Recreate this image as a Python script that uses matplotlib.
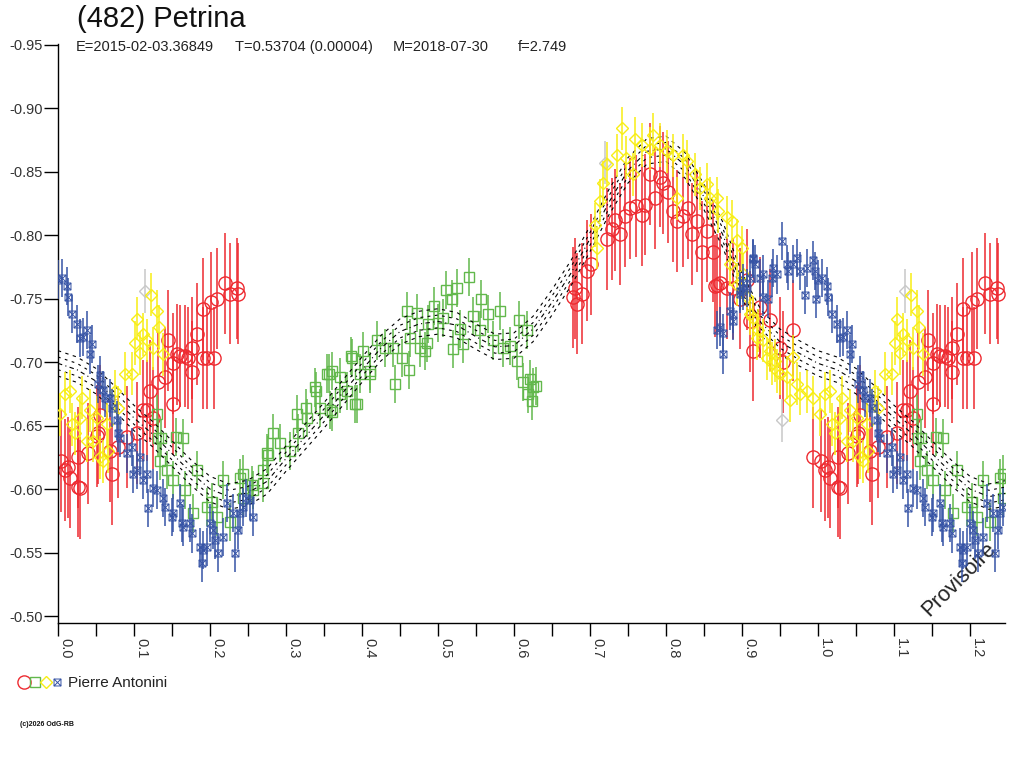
import numpy as np
import matplotlib
matplotlib.use("Agg")
import matplotlib.pyplot as plt
from matplotlib.path import Path
from matplotlib.legend_handler import HandlerTuple

plt.rcParams['font.family'] = ['Liberation Sans', 'DejaVu Sans']

# --- data (phase, reduced magnitude), phases 0..1, wrapped to 1.246 when drawn ---
red_phase = [0.004, 0.009, 0.013, 0.016, 0.026, 0.026, 0.029, 0.039, 0.051, 0.053,
             0.055, 0.068, 0.071, 0.079, 0.091, 0.104, 0.112, 0.117, 0.121, 0.125,
             0.132, 0.141, 0.145, 0.151, 0.151, 0.157, 0.161, 0.167, 0.171, 0.176,
             0.176, 0.183, 0.191, 0.191, 0.196, 0.202, 0.205, 0.209, 0.220, 0.226,
             0.235, 0.237,
             0.678, 0.680, 0.683, 0.689, 0.696, 0.702, 0.722, 0.729, 0.733, 0.739,
             0.746, 0.753, 0.761, 0.768, 0.772, 0.779, 0.786, 0.792, 0.796, 0.803,
             0.809, 0.814, 0.822, 0.829, 0.834, 0.841, 0.847, 0.854, 0.862, 0.864,
             0.867, 0.871, 0.880, 0.888, 0.897, 0.906, 0.911, 0.914, 0.924, 0.937,
             0.950, 0.954, 0.967, 0.993]
red_mag = [-0.622, -0.615, -0.617, -0.609, -0.625, -0.602, -0.601, -0.628, -0.642, -0.644,
           -0.658, -0.630, -0.612, -0.633, -0.641, -0.644, -0.662, -0.662, -0.677, -0.656,
           -0.684, -0.688, -0.717, -0.667, -0.699, -0.706, -0.705, -0.705, -0.703, -0.692,
           -0.711, -0.722, -0.742, -0.703, -0.703, -0.747, -0.703, -0.750, -0.762, -0.754,
           -0.758, -0.754,
           -0.751, -0.758, -0.746, -0.754, -0.772, -0.777, -0.797, -0.805, -0.812, -0.801,
           -0.815, -0.821, -0.823, -0.816, -0.824, -0.848, -0.829, -0.846, -0.841, -0.834,
           -0.819, -0.811, -0.815, -0.821, -0.801, -0.811, -0.787, -0.803, -0.787, -0.760,
           -0.761, -0.762, -0.758, -0.758, -0.750, -0.765, -0.732, -0.709, -0.743, -0.733,
           -0.711, -0.700, -0.725, -0.625]

green_phase = [0.130, 0.132, 0.134, 0.136, 0.143, 0.151, 0.155, 0.164, 0.167, 0.178,
               0.183, 0.196, 0.203, 0.209, 0.217, 0.226, 0.239, 0.243, 0.243, 0.255,
               0.257, 0.270, 0.270, 0.275, 0.276, 0.283, 0.292, 0.305, 0.314, 0.316,
               0.327, 0.328, 0.338, 0.340, 0.345, 0.354, 0.357, 0.358, 0.360, 0.361,
               0.371, 0.371, 0.380, 0.386, 0.387, 0.391, 0.393, 0.397, 0.401, 0.411,
               0.411, 0.420, 0.430, 0.441, 0.443, 0.453, 0.459, 0.462, 0.463, 0.472,
               0.476, 0.483, 0.485, 0.487, 0.495, 0.500, 0.507, 0.511, 0.518, 0.520,
               0.525, 0.529, 0.533, 0.541, 0.546, 0.555, 0.557, 0.566, 0.572, 0.582,
               0.586, 0.595, 0.604, 0.607, 0.612, 0.617, 0.618, 0.621, 0.624, 0.625,
               0.629]
green_mag = [-0.659, -0.640, -0.622, -0.640, -0.615, -0.607, -0.641, -0.640, -0.599, -0.581,
             -0.615, -0.586, -0.590, -0.578, -0.607, -0.574, -0.609, -0.593, -0.612, -0.603,
             -0.599, -0.615, -0.605, -0.628, -0.627, -0.644, -0.636, -0.630, -0.659, -0.644,
             -0.664, -0.656, -0.680, -0.677, -0.664, -0.691, -0.691, -0.662, -0.661, -0.693,
             -0.688, -0.675, -0.677, -0.705, -0.703, -0.667, -0.667, -0.691, -0.709, -0.693,
             -0.691, -0.717, -0.711, -0.711, -0.683, -0.703, -0.740, -0.694, -0.719, -0.739,
             -0.711, -0.709, -0.715, -0.730, -0.744, -0.731, -0.735, -0.757, -0.750, -0.710,
             -0.758, -0.726, -0.714, -0.767, -0.736, -0.725, -0.750, -0.738, -0.717, -0.740,
             -0.711, -0.713, -0.701, -0.733, -0.684, -0.725, -0.675, -0.687, -0.669, -0.680,
             -0.681]

yellow_phase = [0.003, 0.009, 0.016, 0.018, 0.022, 0.029, 0.032, 0.038, 0.042, 0.046,
                0.051, 0.055, 0.059, 0.064, 0.066, 0.075, 0.079, 0.088, 0.097, 0.101,
                0.104, 0.108, 0.112, 0.117, 0.122, 0.125, 0.130, 0.133, 0.138,
                0.707, 0.709, 0.713, 0.717, 0.722, 0.735, 0.742, 0.748, 0.757, 0.759,
                0.768, 0.779, 0.783, 0.792, 0.801, 0.809, 0.814, 0.822, 0.828, 0.838,
                0.845, 0.854, 0.858, 0.867, 0.868, 0.880, 0.884, 0.887, 0.893, 0.893,
                0.900, 0.901, 0.906, 0.911, 0.915, 0.920, 0.921, 0.928, 0.933, 0.937,
                0.939, 0.943, 0.946, 0.950, 0.959, 0.963, 0.967, 0.972, 0.976, 0.985,
                0.993]
yellow_mag = [-0.659, -0.675, -0.677, -0.651, -0.644, -0.656, -0.672, -0.638, -0.662, -0.638,
              -0.656, -0.625, -0.622, -0.651, -0.630, -0.677, -0.664, -0.691, -0.691, -0.715,
              -0.734, -0.707, -0.722, -0.717, -0.753, -0.711, -0.740, -0.728, -0.706,
              -0.808, -0.790, -0.827, -0.841, -0.856, -0.863, -0.884, -0.861, -0.848, -0.876,
              -0.871, -0.868, -0.879, -0.871, -0.866, -0.863, -0.829, -0.863, -0.858, -0.848,
              -0.837, -0.840, -0.829, -0.829, -0.819, -0.814, -0.777, -0.811, -0.796, -0.761,
              -0.790, -0.769, -0.751, -0.738, -0.735, -0.719, -0.725, -0.717, -0.703, -0.709,
              -0.699, -0.701, -0.693, -0.691, -0.688, -0.670, -0.704, -0.683, -0.675, -0.677,
              -0.672]

blue_phase = [0.000, 0.005, 0.012, 0.013, 0.018, 0.025, 0.029, 0.033, 0.038, 0.042,
              0.045, 0.053, 0.055, 0.059, 0.062, 0.068, 0.071, 0.078, 0.079, 0.082,
              0.091, 0.097, 0.099, 0.104, 0.108, 0.112, 0.117, 0.118, 0.125, 0.130,
              0.138, 0.141, 0.150, 0.151, 0.161, 0.163, 0.164, 0.174, 0.176, 0.187,
              0.189, 0.191, 0.196, 0.200, 0.204, 0.206, 0.211, 0.217, 0.222, 0.230,
              0.233, 0.237, 0.239, 0.243, 0.248, 0.253, 0.257,
              0.867, 0.871, 0.875, 0.875, 0.884, 0.888, 0.888, 0.897, 0.897, 0.901,
              0.901, 0.906, 0.911, 0.914, 0.915, 0.917, 0.924, 0.928, 0.928, 0.934,
              0.939, 0.941, 0.946, 0.953, 0.959, 0.961, 0.967, 0.972, 0.976, 0.983,
              0.985, 0.993, 0.996, 0.998]
blue_mag = [-0.765, -0.766, -0.760, -0.751, -0.738, -0.730, -0.719, -0.720, -0.725, -0.706,
            -0.714, -0.683, -0.690, -0.678, -0.672, -0.672, -0.664, -0.654, -0.644, -0.640,
            -0.628, -0.633, -0.612, -0.615, -0.625, -0.607, -0.612, -0.585, -0.601, -0.599,
            -0.593, -0.586, -0.578, -0.581, -0.589, -0.573, -0.570, -0.573, -0.565, -0.554,
            -0.542, -0.552, -0.554, -0.573, -0.568, -0.560, -0.550, -0.562, -0.589, -0.581,
            -0.550, -0.568, -0.581, -0.586, -0.593, -0.591, -0.578,
            -0.725, -0.728, -0.706, -0.723, -0.740, -0.738, -0.732, -0.754, -0.756, -0.756,
            -0.762, -0.758, -0.766, -0.781, -0.782, -0.777, -0.766, -0.769, -0.751, -0.750,
            -0.766, -0.774, -0.769, -0.795, -0.777, -0.772, -0.777, -0.782, -0.772, -0.753,
            -0.774, -0.780, -0.772, -0.750]

gray_phase = [0.114, 0.720, 0.953]
gray_mag = [-0.756, -0.857, -0.654]

# typical 1-sigma error per observing set
red_err = 0.040
green_err = 0.015
yellow_err = 0.017
blue_err = 0.015
gray_err = 0.017

# Fourier fit (read every 0.025 in phase) and envelope offsets
fit_phase = np.arange(41) * 0.025
fit_mag = [-0.699, -0.694, -0.685, -0.671, -0.656, -0.643, -0.628, -0.613, -0.600, -0.594,
           -0.597, -0.606, -0.624, -0.641, -0.658, -0.676, -0.694, -0.711, -0.724, -0.730,
           -0.732, -0.729, -0.720, -0.712, -0.713, -0.726, -0.747, -0.770, -0.797, -0.826,
           -0.851, -0.866, -0.868, -0.855, -0.830, -0.800, -0.760, -0.731, -0.716, -0.707,
           -0.699]
fit_offsets = [-0.010, -0.005, 0.0, 0.005, 0.010]

XMAX = 1.246


def wrap(ph, mag):
    ph = np.asarray(ph)
    mag = np.asarray(mag)
    extra = ph + 1.0 <= XMAX
    return np.concatenate([ph, ph[extra] + 1.0]), np.concatenate([mag, mag[extra]])


fig = plt.figure(figsize=(10.24, 7.68), dpi=100)
ax = fig.add_axes([0.0566, 0.1888, 0.9248, 0.7539])

# fit curve with envelope
fx = np.asarray(fit_phase)
fy = np.asarray(fit_mag)
sel = fx[1:] <= XMAX - 1.0
fx_all = np.concatenate([fx, fx[1:][sel] + 1.0, [XMAX]])
fy_all = np.concatenate([fy, fy[1:][sel], [np.interp(XMAX - 1.0, fx, fy)]])
dashes = [(3, 4), (2.5, 4), (4, 3, 1, 3), (2.5, 4), (3, 4)]
for off, ds in zip(fit_offsets, dashes):
    ax.plot(fx_all, fy_all + off, color='black', lw=0.8, dashes=ds, zorder=5)

# marker for the blue set: square with a cross
blue_marker = Path([(-1, -1), (1, -1), (1, 1), (-1, 1), (-1, -1), (-1, -1), (1, 1), (-1, 1), (1, -1)],
                   [Path.MOVETO, Path.LINETO, Path.LINETO, Path.LINETO, Path.CLOSEPOLY,
                    Path.MOVETO, Path.LINETO, Path.MOVETO, Path.LINETO])

series = [
    (red_phase, red_mag, red_err, '#EE2A30', 'o', 9.5, 1.0),
    (green_phase, green_mag, green_err, '#62B84C', 's', 7.0, 1.0),
    (gray_phase, gray_mag, gray_err, '#C8C8C8', 'D', 6.5, 1.0),
    (yellow_phase, yellow_mag, yellow_err, '#F8EE14', 'D', 6.5, 1.0),
    (blue_phase, blue_mag, blue_err, '#3653A5', blue_marker, 5.0, 0.7),
]
handles = []
for i, (ph, mg, er, col, mk, ms, mew) in enumerate(series):
    x, y = wrap(ph, mg)
    ax.errorbar(x, y, yerr=er, fmt='none', ecolor=col, elinewidth=1.1, capsize=0, zorder=2 + i)
    ln, = ax.plot(x, y, ls='none', marker=mk, ms=ms, mfc='none', mec=col, mew=mew, zorder=2 + i)
    if col != '#C8C8C8':
        handles.append(ln)

ax.set_xlim(0, XMAX)
ax.set_ylim(-0.4945, -0.9505)

ax.spines['top'].set_visible(False)
ax.spines['right'].set_visible(False)
ax.spines['left'].set_linewidth(1.0)
ax.spines['bottom'].set_linewidth(1.0)

xt = np.arange(0, 1.21, 0.1)
ax.set_xticks(xt)
ax.set_xticks(np.arange(0.05, 1.21, 0.1), minor=True)
ax.set_xticklabels([f"{v:.1f}" for v in xt], rotation=270, ha='left', va='top',
                   fontsize=10.5, color='#333333')
ax.tick_params(axis='x', which='both', length=9, width=1.0, pad=2)

yt = np.arange(-0.95, -0.49, 0.05)
ax.set_yticks(yt)
ax.set_yticklabels([f"{v:.2f}" for v in yt], fontsize=10.5, color='#333333')
ax.tick_params(axis='y', length=10, width=1.0, pad=1)

fig.text(77 / 1024, 1 - 19 / 768, "(482) Petrina", fontsize=21, va='center', ha='left', color='#111111')
sub_parts = ["E=2015-02-03.36849", "T=0.53704 (0.00004)", "M=2018-07-30", "f=2.749"]
sub_x = [76, 235, 393, 518]
for s, px in zip(sub_parts, sub_x):
    fig.text(px / 1024, 1 - 47 / 768, s, fontsize=10.5, va='center', ha='left', color='#222222')

ax.text(0.952, 0.075, "Provisoire", transform=ax.transAxes, rotation=45, fontsize=15.5,
        ha='center', va='center', color='#222222')

leg = fig.legend(handles=[tuple(handles)], labels=["Pierre Antonini"],
                 handler_map={tuple: HandlerTuple(ndivide=None, pad=0.0)},
                 loc='center left', bbox_to_anchor=(0.012, 1 - 683 / 768), frameon=False,
                 fontsize=11, handlelength=2.9, handletextpad=0.35, borderaxespad=0)
for t in leg.get_texts():
    t.set_color('#222222')

fig.text(20 / 1024, 1 - 724 / 768, "(c)2026 OdG-RB", fontsize=5, va='center', ha='left',
         color='#111111', fontweight='bold')

fig.savefig("out.png", dpi=100)
